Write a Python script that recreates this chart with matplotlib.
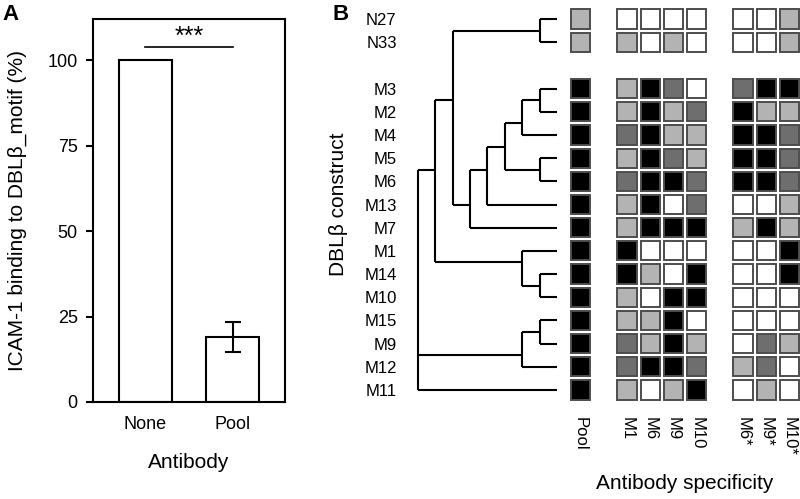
import matplotlib
matplotlib.use("Agg")
import matplotlib.pyplot as plt
from matplotlib.patches import Rectangle

plt.rcParams['font.family'] = ['Liberation Sans', 'DejaVu Sans']

# panel A data
bar_labels = ["None", "Pool"]
bar_values = [100, 19.1]
bar_errors = [0, 4.4]

# panel B data
row_labels = ["N27", "N33", "M3", "M2", "M4", "M5", "M6", "M13", "M7",
              "M1", "M14", "M10", "M15", "M9", "M12", "M11"]
row_groups = [2, 14]  # N-constructs, M-constructs
col_groups = [["Pool"], ["M1", "M6", "M9", "M10"], ["M6*", "M9*", "M10*"]]

# 0 = none, 1 = low, 2 = medium, 3 = high
scores = {
    "N27": [1, 0, 0, 0, 0, 0, 0, 1],
    "N33": [1, 1, 0, 1, 0, 0, 0, 1],
    "M3":  [3, 1, 3, 2, 0, 2, 3, 3],
    "M2":  [3, 1, 3, 1, 2, 3, 1, 1],
    "M4":  [3, 2, 3, 1, 1, 3, 3, 2],
    "M5":  [3, 1, 3, 2, 1, 3, 3, 2],
    "M6":  [3, 2, 3, 3, 2, 3, 3, 2],
    "M13": [3, 1, 3, 0, 2, 0, 0, 1],
    "M7":  [3, 1, 3, 3, 3, 1, 3, 1],
    "M1":  [3, 3, 0, 0, 0, 0, 0, 3],
    "M14": [3, 3, 1, 0, 3, 0, 0, 3],
    "M10": [3, 1, 0, 3, 3, 0, 0, 0],
    "M15": [3, 1, 1, 3, 0, 0, 0, 0],
    "M9":  [3, 2, 1, 3, 1, 0, 2, 1],
    "M12": [3, 2, 3, 3, 2, 1, 2, 0],
    "M11": [3, 1, 0, 1, 3, 0, 1, 0],
}
level_colors = ["#ffffff", "#b3b3b3", "#6e6e6e", "#000000"]

# dendrogram: (name, children, height, row position of node)
tree = [
    ("a", ["N27", "N33"], 1, 0.5),
    ("b", ["M3", "M2"], 1, 3.5),
    ("c", ["b", "M4"], 2, 4.5),
    ("d", ["M5", "M6"], 1, 6.5),
    ("e", ["c", "d"], 3, 5.5),
    ("f", ["e", "M13"], 4, 6.5),
    ("g", ["f", "M7"], 5, 8.0),
    ("h", ["a", "g"], 6, 3.5),
    ("i", ["M14", "M10"], 1, 11.5),
    ("j", ["M1", "i"], 2, 10.5),
    ("k", ["h", "j"], 7, 6.5),
    ("l", ["M15", "M9"], 1, 13.5),
    ("m", ["l", "M12"], 2, 14.5),
    ("root", ["k", "m", "M11"], 8, None),
]

# row / column positions with a gap between groups
row_pos = []
start = 0
for n in row_groups:
    row_pos += list(range(start, start + n))
    start += n + 1
col_labels = []
col_pos = []
start = 0
for g in col_groups:
    col_labels += g
    col_pos += list(range(start, start + len(g)))
    start += len(g) + 1

fig = plt.figure(figsize=(8, 4.99), dpi=100)

# ---- panel A ----
axA = fig.add_axes([93 / 800, 1 - 402 / 499, 192 / 800, 383 / 499])
xs = range(len(bar_labels))
axA.bar(xs, bar_values, width=0.6, color="white", edgecolor="black", linewidth=1.5)
axA.errorbar(1, bar_values[1], yerr=bar_errors[1], color="black", capsize=6,
             elinewidth=1.5, capthick=1.5)
axA.plot([0, 1], [103.9, 103.9], color="black", lw=1.2)
axA.text(0.5, 103.2, "***", ha="center", va="bottom", fontsize=18)
axA.set_xlim(-0.6, 1.6)
axA.set_ylim(0, 112)
axA.set_yticks([0, 25, 50, 75, 100])
axA.set_xticks(list(xs), bar_labels)
axA.tick_params(axis="y", labelsize=13, length=5, width=1.5, pad=6)
axA.tick_params(axis="x", labelsize=13, length=0, pad=10)
for s in axA.spines.values():
    s.set_linewidth(1.5)
axA.set_ylabel("ICAM-1 binding to DBL\u03b2_motif (%)", fontsize=15)
axA.yaxis.set_label_coords(-0.396, 0.5)
axA.yaxis.label.set_va("center")
axA.set_xlabel("Antibody", fontsize=15)
axA.xaxis.set_label_coords(0.5, -0.159)
axA.xaxis.label.set_va("center")
fig.text(2 / 800, 1 - 15 / 499, "A", fontsize=16, fontweight="bold", va="center")

# ---- panel B: dendrogram ----
bottom = 1 - 401.6 / 499
height = 394.2 / 499
axD = fig.add_axes([405 / 800, bottom, 152 / 800, height])
pos = {name: r for name, r in zip(row_labels, row_pos)}
hgt = {name: 0 for name in row_labels}
for name, kids, h, p in tree:
    ys = [pos[k] for k in kids]
    axD.plot([h, h], [min(ys), max(ys)], color="black", lw=1.5,
             solid_capstyle="butt", clip_on=False)
    for k in kids:
        axD.plot([hgt[k], h], [pos[k], pos[k]], color="black", lw=1.5,
                 solid_capstyle="butt", clip_on=False)
    pos[name] = p
    hgt[name] = h
axD.set_xlim(8.74, 0)
axD.set_ylim(16.5, -0.5)
axD.set_yticks(row_pos, row_labels)
axD.set_xticks([])
axD.tick_params(axis="y", length=0, pad=6, labelsize=12)
for s in axD.spines.values():
    s.set_visible(False)
axD.set_ylabel("DBL\u03b2 construct", fontsize=15)
axD.yaxis.set_label_coords(-0.44, 0.5)
axD.yaxis.label.set_va("center")
fig.text(332 / 800, 1 - 15 / 499, "B", fontsize=16, fontweight="bold", va="center")

# ---- panel B: specificity grid ----
axG = fig.add_axes([569 / 800, bottom, 231 / 800, height])
sq = 0.83
for name, r in zip(row_labels, row_pos):
    for c, v in zip(col_pos, scores[name]):
        axG.add_patch(Rectangle((c - sq / 2, r - sq / 2), sq, sq,
                                facecolor=level_colors[v], edgecolor="#4d4d4d",
                                linewidth=1.4))
axG.set_xlim(-0.5, 9.45)
axG.set_ylim(16.5, -0.5)
axG.set_yticks([])
axG.set_xticks(col_pos, col_labels, rotation=270)
axG.tick_params(axis="x", length=0, pad=11, labelsize=12)
for lab in axG.get_xticklabels():
    lab.set_va("top")
for s in axG.spines.values():
    s.set_visible(False)
axG.set_xlabel("Antibody specificity", fontsize=15)
axG.xaxis.set_label_coords(0.5, -0.2065)
axG.xaxis.label.set_va("center")

fig.savefig("out.png", dpi=100)
